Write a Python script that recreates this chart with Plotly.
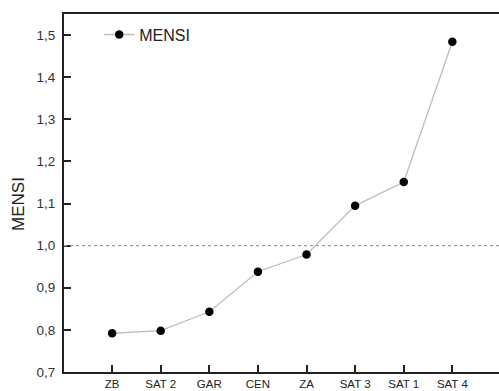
import plotly.graph_objects as go

# MENSI index per site, sorted ascending
sites = ["ZB", "SAT 2", "GAR", "CEN", "ZA", "SAT 3", "SAT 1", "SAT 4"]
mensi = [0.792, 0.798, 0.843, 0.938, 0.979, 1.095, 1.151, 1.484]
y_ticks = [0.7, 0.8, 0.9, 1.0, 1.1, 1.2, 1.3, 1.4, 1.5]
reference_level = 1.0

fig = go.Figure()
fig.add_trace(go.Scatter(
    x=sites, y=mensi, mode="lines+markers", name="MENSI",
    line=dict(color="#bdbdbd", width=1.3),
    marker=dict(color="black", size=8.5),
))

fig.add_shape(type="line", xref="paper", yref="y", x0=0, x1=1,
              y0=reference_level, y1=reference_level,
              line=dict(color="#9a9a9a", width=1.2, dash="dot"))

# vertical axis title, placed left of the tick labels
fig.add_annotation(text="MENSI", textangle=-90, xref="paper", yref="paper",
                   x=-0.1046, y=0.4707, xanchor="center", yanchor="middle",
                   showarrow=False, font=dict(size=17, color="#222222"))

font_family = "Liberation Sans, Arial, sans-serif"
fig.update_layout(
    width=499, height=391,
    margin=dict(l=64, r=0, t=14, b=19),
    paper_bgcolor="white", plot_bgcolor="white",
    separators=",.",
    font=dict(family=font_family, color="#333333", size=12),
    showlegend=True,
    legend=dict(x=0.081, y=0.99, xanchor="left", yanchor="top",
                bgcolor="rgba(0,0,0,0)", font=dict(size=16, color="#222222"),
                itemwidth=30),
    xaxis=dict(
        type="category", range=[-0.99, 7.96],
        showline=True, linecolor="#222222", linewidth=2, mirror=True,
        ticks="inside", ticklen=7, tickwidth=1.5, tickcolor="#222222",
        showgrid=False, zeroline=False, automargin=False,
        tickfont=dict(size=11.5, color="#222222"), ticklabelstandoff=0,
    ),
    yaxis=dict(
        range=[0.7, 1.55], tickvals=y_ticks, tickformat=".1f",
        showline=True, linecolor="#222222", linewidth=2,
        ticks="inside", ticklen=7, tickwidth=1.5, tickcolor="#222222",
        showgrid=False, zeroline=False, automargin=False,
        tickfont=dict(size=13.5, color="#333333"), ticklabelstandoff=4,
    ),
)

fig.write_html("out.html")
